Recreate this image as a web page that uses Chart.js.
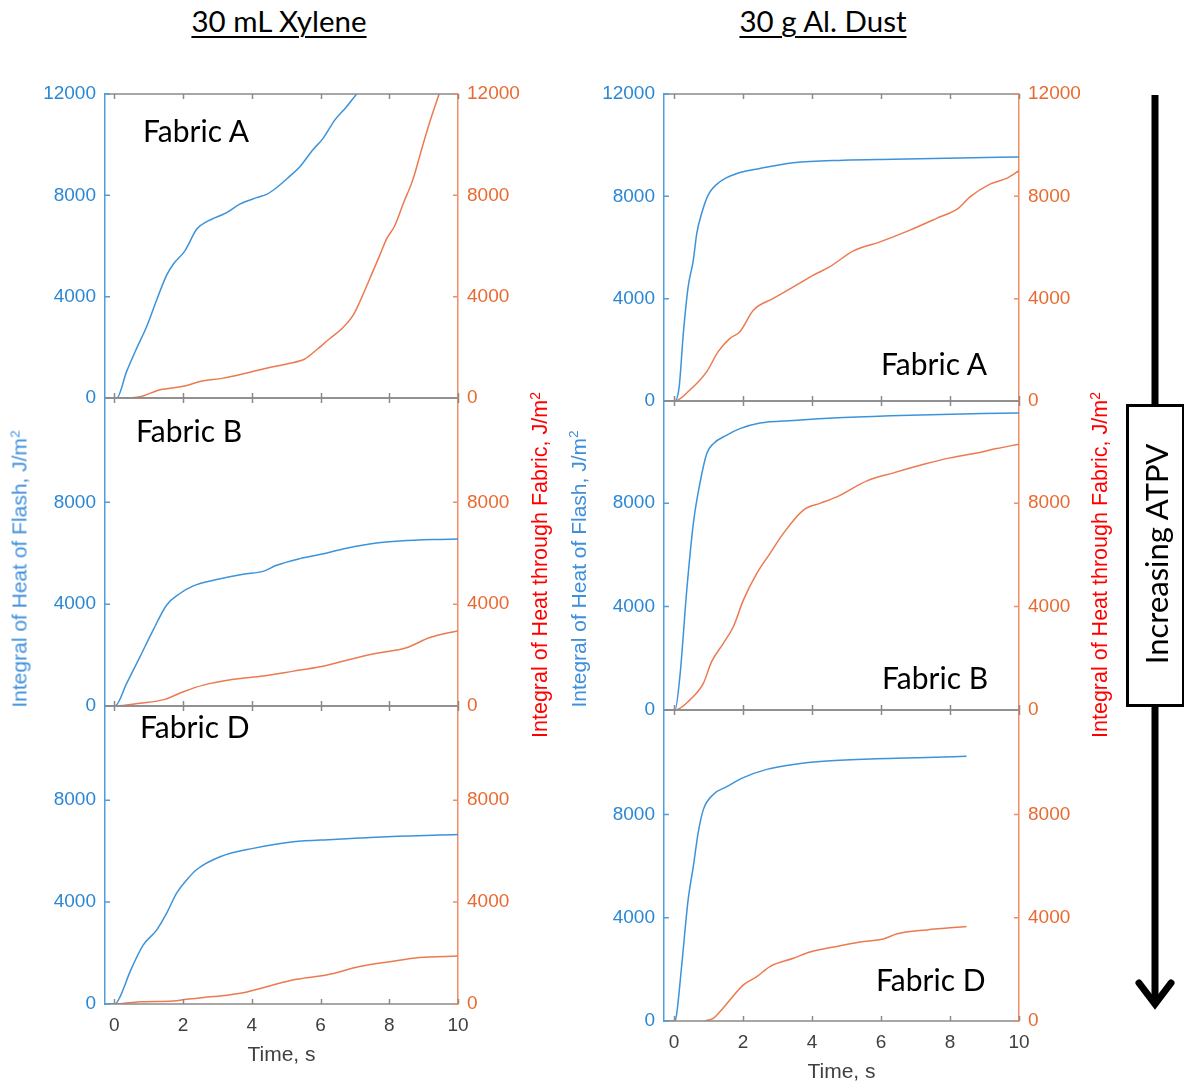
<!DOCTYPE html>
<html>
<head>
<meta charset="utf-8">
<script src="https://cdn.jsdelivr.net/npm/chart.js@4/dist/chart.umd.min.js"></script>
<style>
html,body{margin:0;padding:0;background:#fff;}
body{width:1184px;height:1084px;overflow:hidden;position:relative;}
canvas{position:absolute;}
.t{position:absolute;white-space:nowrap;line-height:1;}
.head{font-family:Lato,"Open Sans",sans-serif;font-size:29.5px;color:#000;text-decoration:underline;text-decoration-thickness:2px;text-underline-offset:4px;transform:translateX(-50%);}
.fab{font-family:Lato,"Open Sans",sans-serif;font-size:30px;color:#000;}
.rot{transform:translate(-50%,-50%) rotate(-90deg);}
.ylb{font-family:"Liberation Sans",Arial,sans-serif;font-size:21px;color:#3f8fdc;}
.yrt{font-family:"Liberation Sans Narrow","Liberation Sans",Arial,sans-serif;font-size:21.5px;color:#ff0000;}
sup{font-size:0.65em;vertical-align:0.55em;line-height:0;}
.atpv{font-family:Lato,"Open Sans",sans-serif;font-size:31px;color:#000;}
svg{position:absolute;left:0;top:0;}
</style>
</head>
<body>
<script>
// ---------------- DATA ----------------
const xTicks = [0, 2, 4, 6, 8, 10];
const yTicksTop = [0, 4000, 8000, 12000];
const yTicksLower = [0, 4000, 8000];

// 30 mL Xylene, Fabric A
const xylA_flash_t = [-0.27, 0.07, 0.36, 0.65, 0.94, 1.23, 1.52, 1.72, 2.06, 2.40, 2.69, 3.27, 3.65, 4.14, 4.43, 4.72, 5.11, 5.40, 5.78, 6.08, 6.42, 6.76, 7.05];
const xylA_flash_v = [0, 0, 1050, 1960, 2810, 3860, 4840, 5290, 5820, 6670, 6960, 7320, 7650, 7910, 8040, 8300, 8760, 9130, 9800, 10260, 10980, 11500, 12000];
const xylA_fabric_t = [-0.27, 0.20, 0.75, 1.33, 2.01, 2.49, 3.17, 3.95, 4.62, 5.11, 5.54, 5.88, 6.27, 6.61, 6.95, 7.14, 7.43, 7.72, 7.92, 8.16, 8.40, 8.69, 8.98, 9.23, 9.45];
const xylA_fabric_v = [0, 0, 50, 325, 460, 650, 785, 1020, 1230, 1370, 1540, 1895, 2350, 2720, 3270, 3790, 4700, 5620, 6270, 6800, 7650, 8630, 10000, 11110, 12000];

// 30 mL Xylene, Fabric B
const xylB_flash_t = [-0.27, 0.02, 0.36, 0.75, 1.13, 1.52, 1.91, 2.30, 2.98, 3.75, 4.33, 4.72, 5.40, 5.98, 6.76, 7.63, 8.31, 9.28, 10];
const xylB_flash_v = [0, 0, 890, 1940, 2980, 3960, 4420, 4720, 4970, 5180, 5290, 5530, 5790, 5950, 6200, 6400, 6480, 6540, 6560];
const xylB_fabric_t = [-0.27, 0.02, 0.75, 1.47, 2.01, 2.59, 3.47, 4.33, 5.21, 5.98, 6.85, 7.63, 8.50, 9.18, 10];
const xylB_fabric_v = [0, 0, 105, 260, 560, 820, 1050, 1180, 1370, 1540, 1830, 2070, 2290, 2690, 2960];

// 30 mL Xylene, Fabric D
const xylD_flash_t = [-0.27, 0.02, 0.17, 0.46, 0.84, 1.23, 1.52, 1.81, 2.10, 2.40, 3.08, 4.04, 5.21, 6.37, 7.82, 10];
const xylD_flash_v = [0, 0, 290, 1270, 2310, 2900, 3560, 4340, 4860, 5280, 5780, 6110, 6370, 6460, 6560, 6650];
const xylD_fabric_t = [-0.27, 0.02, 0.75, 1.72, 2.10, 2.88, 3.75, 4.43, 5.30, 6.17, 7.14, 8.01, 8.88, 10];
const xylD_fabric_v = [0, 0, 90, 120, 185, 290, 445, 680, 970, 1140, 1470, 1660, 1830, 1880];

// 30 g Al. Dust, Fabric A
const alA_flash_t = [-0.29, 0.03, 0.15, 0.27, 0.41, 0.56, 0.66, 0.80, 0.99, 1.33, 1.82, 2.49, 3.46, 4.91, 6.36, 8.29, 10];
const alA_flash_v = [0, 0, 560, 2640, 4460, 5510, 6550, 7330, 8050, 8570, 8890, 9090, 9310, 9410, 9450, 9500, 9540];
const alA_fabric_t = [-0.29, 0.03, 0.46, 0.95, 1.28, 1.62, 1.91, 2.30, 2.88, 3.46, 4.04, 4.52, 5.20, 5.97, 6.84, 7.61, 8.24, 8.58, 9.16, 9.64, 10];
const alA_fabric_v = [0, 0, 430, 1150, 1930, 2450, 2710, 3550, 4010, 4460, 4920, 5250, 5870, 6220, 6680, 7140, 7530, 7980, 8480, 8700, 9000];

// 30 g Al. Dust, Fabric B
const alB_flash_t = [-0.29, 0.03, 0.17, 0.37, 0.56, 0.75, 0.95, 1.14, 1.53, 1.91, 2.49, 3.46, 4.91, 6.84, 10];
const alB_flash_v = [0, 0, 1290, 4640, 7210, 8760, 9920, 10300, 10630, 10880, 11100, 11200, 11310, 11400, 11490];
const alB_fabric_t = [-0.29, 0.03, 0.46, 0.85, 1.09, 1.43, 1.72, 2.01, 2.40, 2.78, 3.17, 3.75, 4.23, 4.72, 5.59, 6.36, 7.32, 8.00, 8.77, 9.35, 10];
const alB_fabric_v = [0, 0, 390, 1030, 1870, 2580, 3220, 4250, 5280, 6050, 6830, 7730, 7990, 8240, 8860, 9170, 9530, 9750, 9940, 10110, 10280];

// 30 g Al. Dust, Fabric D
const alD_flash_t = [-0.29, 0.03, 0.08, 0.22, 0.41, 0.56, 0.70, 0.85, 1.14, 1.53, 2.01, 2.69, 3.46, 4.43, 5.87, 7.32, 8.48];
const alD_flash_v = [0, 0, 300, 2110, 4700, 5990, 7290, 8190, 8780, 9080, 9430, 9750, 9940, 10070, 10160, 10210, 10260];
const alD_fabric_t = [0.90, 1.14, 1.33, 1.62, 2.01, 2.40, 2.78, 3.46, 3.94, 4.72, 5.39, 6.07, 6.45, 7.32, 8.48];
const alD_fabric_v = [0, 100, 360, 815, 1400, 1720, 2110, 2430, 2670, 2890, 3060, 3180, 3370, 3530, 3660];

// ---------------- STYLE ----------------
const BLUE_LINE = '#3d93da';
const BLUE_AXIS = '#4f9ee0';
const BLUE_LABEL = '#2b87d3';
const ORANGE_LINE = '#ec7a50';
const ORANGE_AXIS = '#f08e66';
const ORANGE_LABEL = '#e96a30';
const GRAY = '#8a8a8a';
const TICK_FONT = {family: '"Liberation Sans", Arial, sans-serif', size: 19};

const PAD_L = 80, PAD_R = 80, PAD_T = 24;

const framePlugin = {
  id: 'frame',
  afterDraw(chart) {
    const {ctx, chartArea: a, scales} = chart;
    ctx.save();
    ctx.lineWidth = 1.5;
    ctx.strokeStyle = GRAY;
    ctx.beginPath();
    ctx.moveTo(a.left, a.top); ctx.lineTo(a.right, a.top);
    ctx.moveTo(a.left, a.bottom); ctx.lineTo(a.right, a.bottom);
    xTicks.forEach(v => {
      const px = Math.round(scales.x.getPixelForValue(v)) + 0.5;
      ctx.moveTo(px, a.bottom); ctx.lineTo(px, a.bottom - 5);
      ctx.moveTo(px, a.top); ctx.lineTo(px, a.top + 5);
    });
    ctx.stroke();
    ctx.strokeStyle = BLUE_AXIS;
    ctx.beginPath();
    scales.yL.ticks.forEach(t => {
      const py = scales.yL.getPixelForValue(t.value);
      ctx.moveTo(a.left, py); ctx.lineTo(a.left + 5, py);
    });
    ctx.stroke();
    ctx.strokeStyle = ORANGE_AXIS;
    ctx.beginPath();
    scales.yR.ticks.forEach(t => {
      const py = scales.yR.getPixelForValue(t.value);
      ctx.moveTo(a.right, py); ctx.lineTo(a.right - 5, py);
    });
    ctx.stroke();
    ctx.restore();
  }
};

function pts(t, v) { return t.map((x, i) => ({x: x, y: v[i]})); }

function makePanel(p) {
  const padB = p.bottomPanel ? 64 : 24;
  const w = (p.right - p.left) + PAD_L + PAD_R;
  const h = (p.bottom - p.top) + PAD_T + padB;
  const cv = document.createElement('canvas');
  cv.width = w; cv.height = h;
  cv.style.left = (p.left - PAD_L) + 'px';
  cv.style.top = (p.top - PAD_T) + 'px';
  cv.style.width = w + 'px'; cv.style.height = h + 'px';
  document.body.appendChild(cv);
  const yTickArr = p.yTicks;
  const yScale = (pos, color, labelColor) => ({
    type: 'linear', position: pos, min: 0, max: p.ymax,
    grid: {display: false, drawTicks: false},
    border: {display: true, color: color, width: 1.5},
    ticks: {color: labelColor, font: TICK_FONT, padding: 9, callback: v => String(v)},
    afterBuildTicks: s => { s.ticks = yTickArr.map(v => ({value: v})); },
    afterFit: s => { s.width = pos === 'left' ? PAD_L : PAD_R; }
  });
  new Chart(cv, {
    type: 'line',
    data: {
      datasets: [
        {data: pts(p.ft, p.fv), yAxisID: 'yL', borderColor: BLUE_LINE},
        {data: pts(p.bt, p.bv), yAxisID: 'yR', borderColor: ORANGE_LINE}
      ]
    },
    options: {
      responsive: false, animation: false, devicePixelRatio: 1,
      layout: {padding: {top: PAD_T, left: 0, right: 0, bottom: 0}},
      plugins: {legend: {display: false}, tooltip: {enabled: false}},
      elements: {point: {radius: 0}, line: {borderWidth: 1.5, cubicInterpolationMode: 'monotone', fill: false}},
      scales: {
        x: {
          type: 'linear', position: 'bottom', min: p.xmin, max: 10,
          grid: {display: false, drawTicks: false},
          border: {display: false},
          ticks: {display: p.bottomPanel, color: '#404040', font: TICK_FONT, padding: 10, callback: v => String(v)},
          afterBuildTicks: s => { s.ticks = xTicks.map(v => ({value: v})); },
          title: {display: p.bottomPanel, text: 'Time, s', color: '#404040', font: {family: '"Liberation Sans", Arial, sans-serif', size: 21}, padding: {top: 0, bottom: 0}},
          afterFit: s => { s.height = padB; }
        },
        yL: yScale('left', BLUE_AXIS, BLUE_LABEL),
        yR: yScale('right', ORANGE_AXIS, ORANGE_LABEL)
      }
    },
    plugins: [framePlugin]
  });
}

const panels = [
  {left: 105, right: 458, top: 94,  bottom: 398,  xmin: -0.27, ymax: 12000, yTicks: yTicksTop,   bottomPanel: false, ft: xylA_flash_t, fv: xylA_flash_v, bt: xylA_fabric_t, bv: xylA_fabric_v},
  {left: 105, right: 458, top: 398, bottom: 706,  xmin: -0.27, ymax: 12100, yTicks: yTicksLower, bottomPanel: false, ft: xylB_flash_t, fv: xylB_flash_v, bt: xylB_fabric_t, bv: xylB_fabric_v},
  {left: 105, right: 458, top: 706, bottom: 1004, xmin: -0.27, ymax: 11700, yTicks: yTicksLower, bottomPanel: true,  ft: xylD_flash_t, fv: xylD_flash_v, bt: xylD_fabric_t, bv: xylD_fabric_v},
  {left: 664, right: 1019, top: 94,  bottom: 401,  xmin: -0.29, ymax: 12000, yTicks: yTicksTop,   bottomPanel: false, ft: alA_flash_t, fv: alA_flash_v, bt: alA_fabric_t, bv: alA_fabric_v},
  {left: 664, right: 1019, top: 401, bottom: 710,  xmin: -0.29, ymax: 11950, yTicks: yTicksLower, bottomPanel: false, ft: alB_flash_t, fv: alB_flash_v, bt: alB_fabric_t, bv: alB_fabric_v},
  {left: 664, right: 1019, top: 710, bottom: 1021, xmin: -0.29, ymax: 12050, yTicks: yTicksLower, bottomPanel: true,  ft: alD_flash_t, fv: alD_flash_v, bt: alD_fabric_t, bv: alD_fabric_v}
];
panels.forEach(makePanel);
</script>

<div class="t head" style="left:279px;top:6px;">30 mL Xylene</div>
<div class="t head" style="left:823px;top:6px;">30 g Al. Dust</div>

<div class="t fab" style="left:143px;top:115px;">Fabric A</div>
<div class="t fab" style="left:136px;top:415px;">Fabric B</div>
<div class="t fab" style="left:140px;top:711px;">Fabric D</div>
<div class="t fab" style="left:881px;top:348px;">Fabric A</div>
<div class="t fab" style="left:882px;top:662px;">Fabric B</div>
<div class="t fab" style="left:876px;top:964px;">Fabric D</div>

<div class="t ylb rot" style="left:19px;top:569px;">Integral of Heat of Flash, J/m<sup>2</sup></div>
<div class="t ylb rot" style="left:578px;top:569px;">Integral of Heat of Flash, J/m<sup>2</sup></div>
<div class="t yrt rot" style="left:541px;top:565px;">Integral of Heat through Fabric, J/m<sup>2</sup></div>
<div class="t yrt rot" style="left:1101px;top:565px;">Integral of Heat through Fabric, J/m<sup>2</sup></div>

<svg width="1184" height="1084">
  <line x1="1155" y1="95" x2="1155" y2="1004" stroke="#000" stroke-width="7"/>
  <polyline points="1139,983 1155,1004 1171,983" fill="none" stroke="#000" stroke-width="7" stroke-linejoin="miter" stroke-linecap="round"/>
  <rect x="1127.5" y="405.5" width="56" height="300" fill="#fff" stroke="#000" stroke-width="3"/>
</svg>
<div class="t atpv rot" style="left:1156px;top:554px;">Increasing ATPV</div>
</body>
</html>
